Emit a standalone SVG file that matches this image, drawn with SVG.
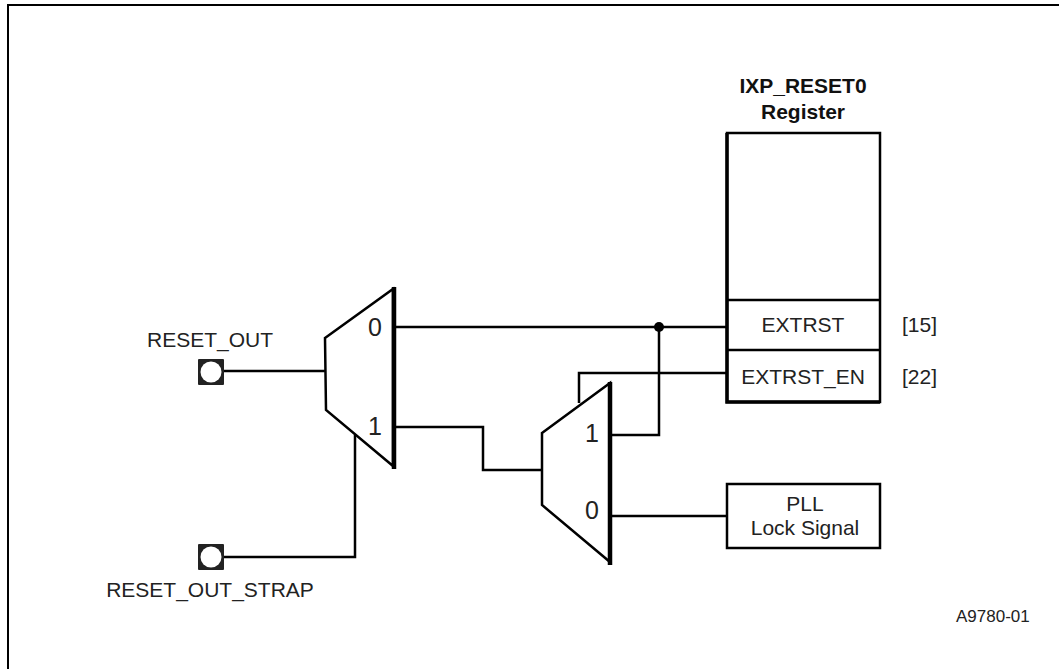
<svg xmlns="http://www.w3.org/2000/svg" width="1059" height="669" viewBox="0 0 1059 669">
<style>
text{font-family:"Liberation Sans",Arial,sans-serif;font-size:21px;fill:#222}
.m{text-anchor:middle}
.b{font-weight:bold;fill:#111}
.w{fill:none;stroke:#000;stroke-width:2.5}
.box{fill:#fff;stroke:#000;stroke-width:2.5}
.hv{fill:none;stroke:#000;stroke-width:4.500}
.n{font-size:25px}
</style>
<defs>
<g id="pad"><rect x="-13" y="-13" width="26" height="26" rx="1" fill="#222"/><circle r="10.500" fill="#fff"/></g>
</defs>
<rect x="8" y="5" width="1060" height="670" fill="#fff" stroke="#000" stroke-width="2"/>
<g id="connectors">
<path class="w" d="M396 327H727"/>
<path class="w" d="M659 327V435H612"/>
<circle cx="659" cy="327" r="5" fill="#000"/>
<path class="w" d="M579 403V373H727"/>
<path class="w" d="M612 516H727"/>
<path class="w" d="M396 427H483V470H542"/>
<path class="w" d="M222 371H325"/>
<path class="w" d="M222 557H355V435"/>
</g>
<g id="mux1">
<path class="box" d="M325 338L393 289V466L326 410Z"/>
<path class="hv" d="M394 287V469"/>
<text class="n m" x="375" y="336">0</text>
<text class="n m" x="375" y="435">1</text>
</g>
<g id="mux2">
<path class="box" d="M542 433L610 383L610 562L542 505Z"/>
<path class="hv" d="M610 382V565"/>
<text class="n m" x="592" y="442">1</text>
<text class="n m" x="592" y="519">0</text>
</g>
<g id="register">
<rect class="box" x="727" y="133" width="153" height="269"/>
<path class="hv" d="M727 133V402H880" style="stroke-width:3.500"/>
<path class="w" d="M727 300H880M727 350H880"/>
<text class="m b" x="803" y="93">IXP_RESET0</text>
<text class="m b" x="803" y="119">Register</text>
<text class="m" x="803" y="332">EXTRST</text>
<text class="m" x="803" y="384">EXTRST_EN</text>
<text x="902" y="332">[15]</text>
<text x="902" y="384">[22]</text>
</g>
<g id="pll">
<rect class="box" x="727" y="484" width="153" height="64"/>
<text class="m" x="805" y="511">PLL</text>
<text class="m" x="805" y="535">Lock Signal</text>
</g>
<g id="reset_out">
<use href="#pad" x="211" y="372"/>
<text class="m" x="210" y="347">RESET_OUT</text>
</g>
<g id="reset_out_strap">
<use href="#pad" x="211" y="557"/>
<text class="m" x="210" y="597">RESET_OUT_STRAP</text>
</g>
<text x="956" y="622" style="font-size:17px">A9780-01</text>
</svg>
